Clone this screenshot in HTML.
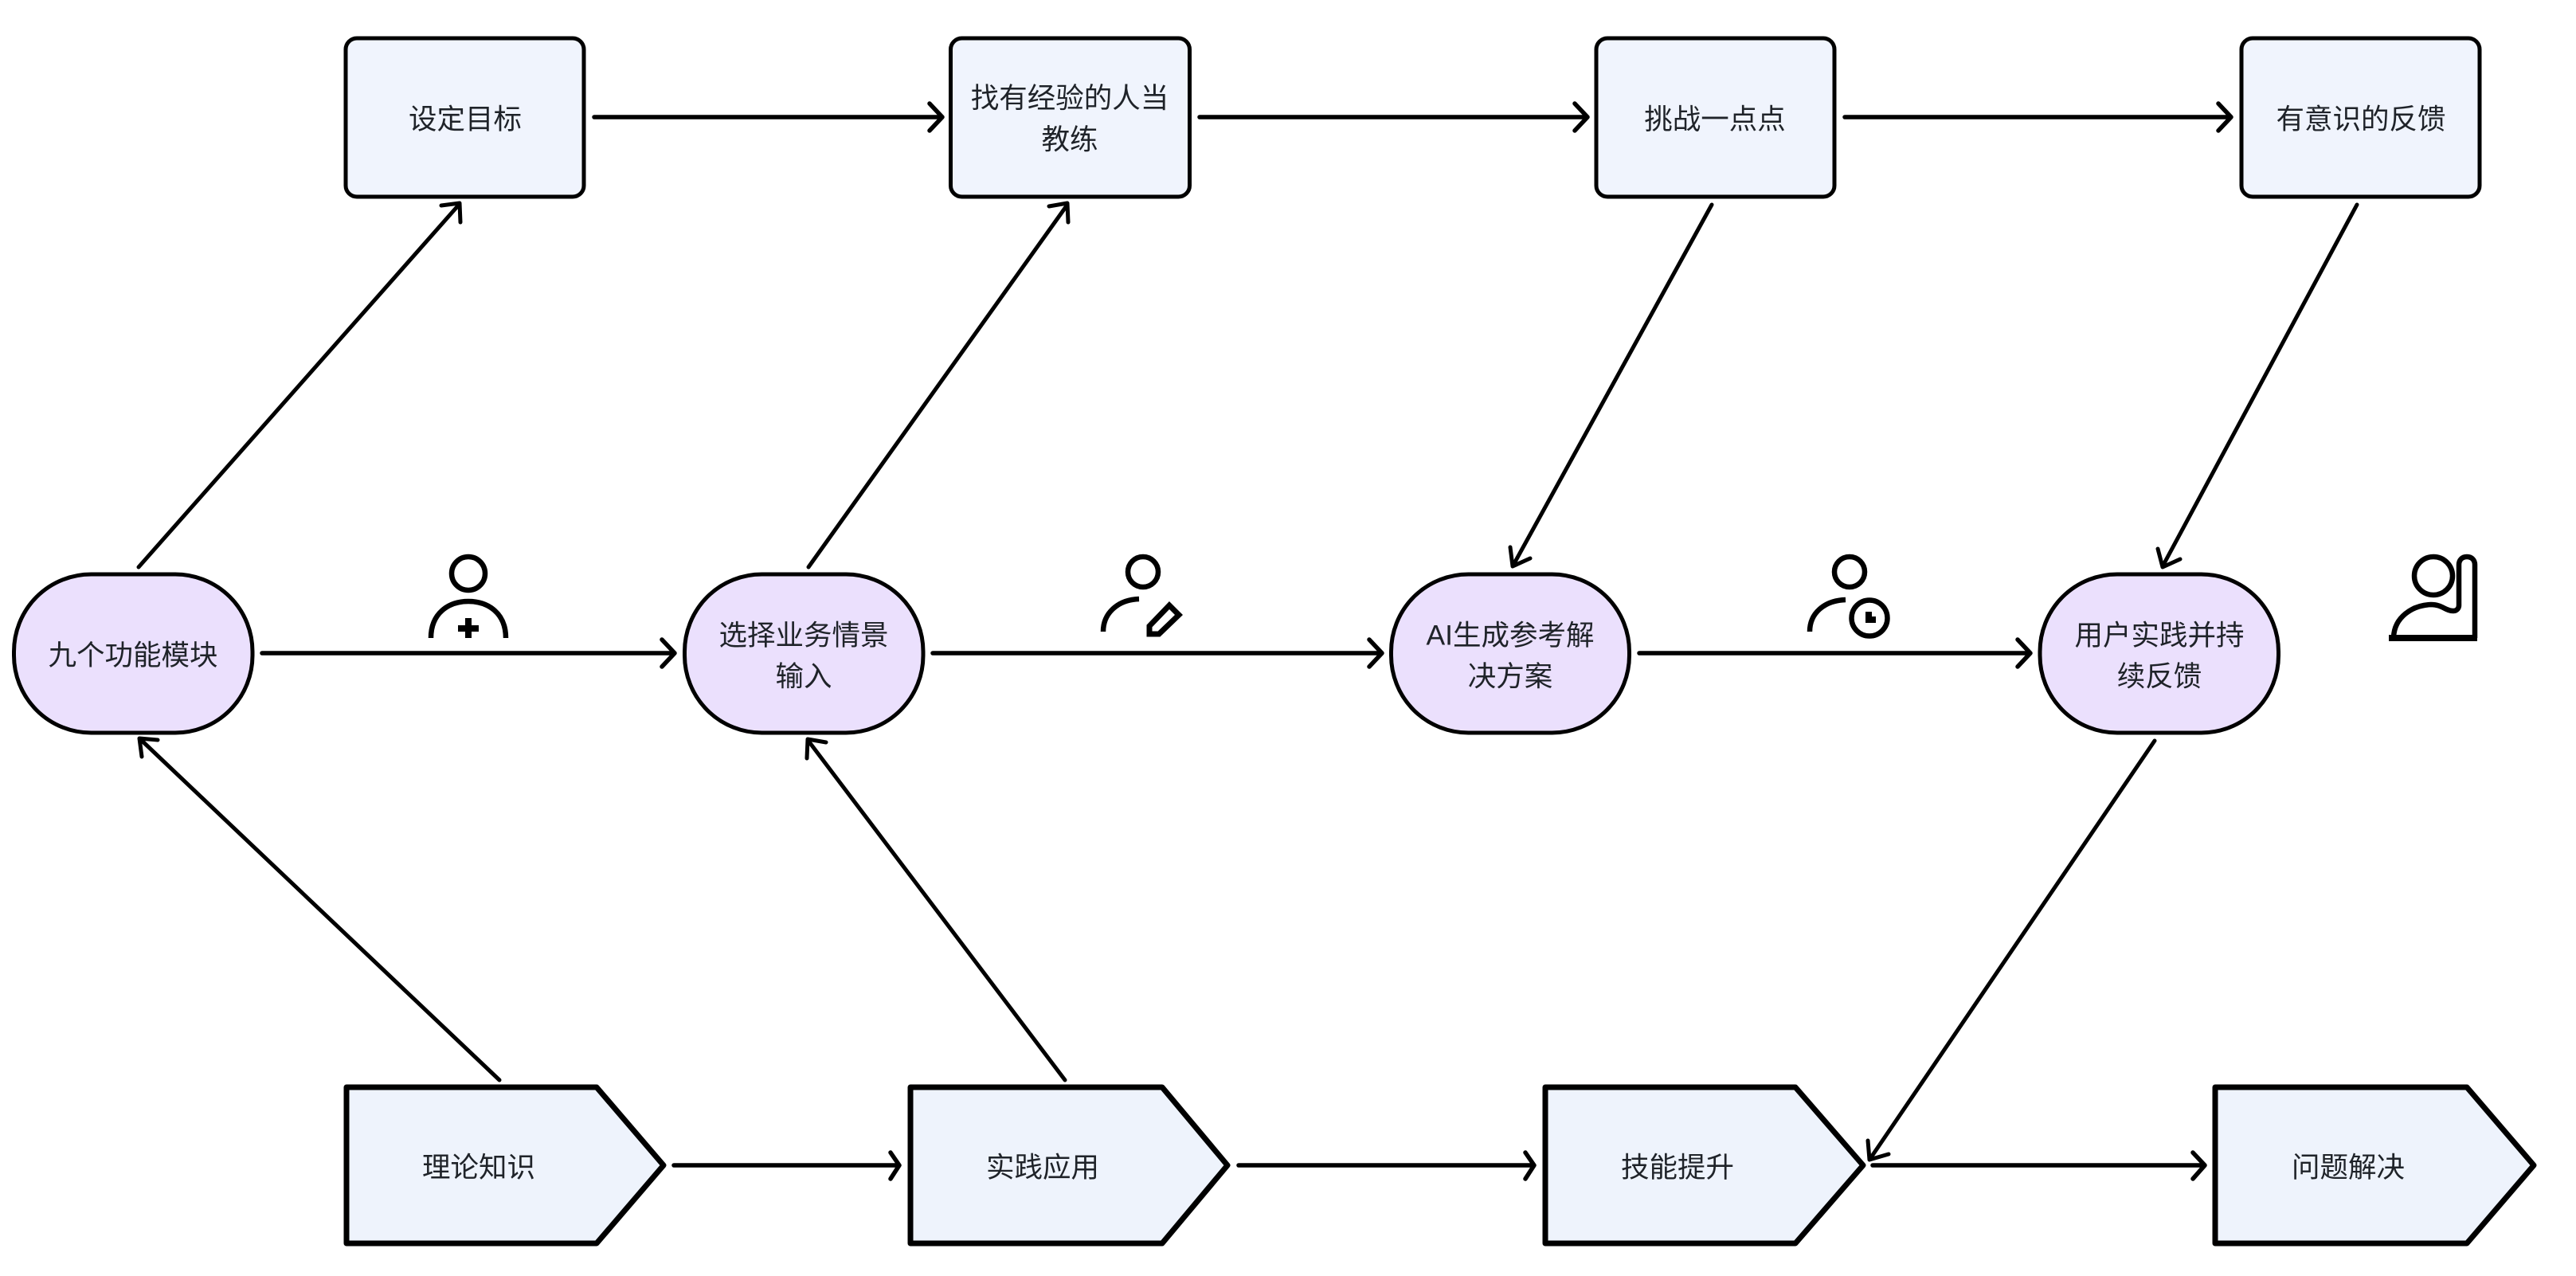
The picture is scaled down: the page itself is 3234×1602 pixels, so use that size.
<!DOCTYPE html>
<html lang="zh">
<head>
<meta charset="utf-8">
<title>diagram</title>
<style>
html,body{margin:0;padding:0;background:#fff;width:3234px;height:1602px;overflow:hidden}
svg{display:block}
text{font-family:"Liberation Sans","Noto Sans CJK SC",sans-serif;font-size:35.5px;fill:#1f2329;text-anchor:middle;dominant-baseline:central}
.r{fill:#f0f4fd;stroke:#000;stroke-width:5}
.p{fill:#ebe0fd;stroke:#000;stroke-width:5}
.h{fill:#eef3fc;stroke:#000;stroke-width:7;stroke-linejoin:round}
.l{fill:none;stroke:#000;stroke-width:5.5;stroke-linecap:round;stroke-linejoin:round}
.d{fill:none;stroke:#000;stroke-width:5;stroke-linecap:round;stroke-linejoin:round}
.i{fill:none;stroke:#000;stroke-width:6.5}
</style>
</head>
<body>
<svg width="3234" height="1602" viewBox="0 0 3234 1602" xmlns="http://www.w3.org/2000/svg">
<rect width="3234" height="1602" fill="#fff"/>

<!-- top rects -->
<rect class="r" x="434" y="48" width="299" height="199" rx="14"/>
<rect class="r" x="1193.500" y="48" width="300" height="199" rx="14"/>
<rect class="r" x="2004" y="48" width="299" height="199" rx="14"/>
<rect class="r" x="2814" y="48" width="299" height="199" rx="14"/>
<text x="584" y="149.500">设定目标</text>
<text x="1343" y="123">找有经验的人当</text>
<text x="1343" y="175">教练</text>
<text x="2153" y="149.500">挑战一点点</text>
<text x="2964" y="149.500">有意识的反馈</text>

<!-- pills -->
<rect class="p" x="17.500" y="721" width="299.500" height="199" rx="97" ry="97"/>
<rect class="p" x="859.500" y="721" width="299.500" height="199" rx="97" ry="97"/>
<rect class="p" x="1746.500" y="721" width="299" height="199" rx="97" ry="97"/>
<rect class="p" x="2561" y="721" width="299.500" height="199" rx="97" ry="97"/>
<text x="167" y="822.500">九个功能模块</text>
<text x="1009" y="797.500">选择业务情景</text>
<text x="1009" y="849">输入</text>
<text x="1896" y="797.500">AI生成参考解</text>
<text x="1896" y="849">决方案</text>
<text x="2711" y="797.500">用户实践并持</text>
<text x="2711" y="849">续反馈</text>

<!-- pentagons -->
<polygon class="h" points="435,1365 749,1365 833,1463 749,1561 435,1561"/>
<polygon class="h" points="1143,1365 1459,1365 1541,1463 1459,1561 1143,1561"/>
<polygon class="h" points="1940,1365 2254,1365 2339,1463 2254,1561 1940,1561"/>
<polygon class="h" points="2781,1365 3097,1365 3181,1463 3097,1561 2781,1561"/>
<text x="601" y="1465.500">理论知识</text>
<text x="1309" y="1465.500">实践应用</text>
<text x="2106" y="1465.500">技能提升</text>
<text x="2948" y="1465.500">问题解决</text>

<!-- horizontal connectors -->
<g class="l">
<path d="M746 147H1183M1167 130L1183 147L1167 164"/>
<path d="M1506 147H1993M1977 130L1993 147L1977 164"/>
<path d="M2316 147H2801M2785 130L2801 147L2785 164"/>
<path d="M329 820H847M831 803L847 820L831 837"/>
<path d="M1171 820H1735M1719 803L1735 820L1719 837"/>
<path d="M2058 820H2549M2533 803L2549 820L2533 837"/>
<path d="M846 1463H1129M1118 1447L1129 1463L1118 1480"/>
<path d="M1555 1463H1926M1915 1447L1926 1463L1915 1480"/>
<path d="M2351 1463H2768M2753 1447L2768 1463L2753 1480"/>
</g>

<!-- diagonal connectors -->
<g class="d">
<path d="M174 712L577 256M554 258L577 255L578 279"/>
<path d="M1015 712L1340 257M1317 259L1340 255L1341 279"/>
<path d="M2149 257L1899 711M1896 687L1899 711L1921 701"/>
<path d="M2959 257L2715 711M2709 689L2715 712L2737 702"/>
<path d="M2705 930L2347 1456M2345 1432L2347 1456L2371 1449"/>
<path d="M627 1356L175 927M198 929L175 927L178 950"/>
<path d="M1337 1356L1014 929M1037 932L1014 928L1013 952"/>
</g>

<!-- icon 1: user plus -->
<g class="i">
<circle cx="588" cy="720" r="21"/>
<path d="M541 801C541 770 563 755 588 755C613 755 635 770 635 801"/>
</g>
<path d="M588 776V801M575 789H601" fill="none" stroke="#000" stroke-width="8"/>

<!-- icon 2: user edit -->
<g class="i">
<circle cx="1435" cy="718" r="19"/>
<path d="M1385 793C1385 770 1403 753 1430 752"/>
<path d="M1468 760L1480 772L1455 796L1443 796L1443 786Z" stroke-linejoin="miter" stroke-width="7"/>
</g>

<!-- icon 3: user clock -->
<g class="i">
<circle cx="2322" cy="718" r="19"/>
<path d="M2272 793C2272 770 2290 754 2317 753"/>
<circle cx="2347" cy="776" r="22.500"/>
</g>
<path d="M2342 768H2350V774H2355V782H2342Z" fill="#000"/>

<!-- icon 4: user with panel -->
<g class="i">
<circle cx="3055" cy="723" r="24"/>
<path d="M3005 800C3006 775 3028 760 3052 759C3066 759 3070 767 3080 767C3085 767 3087 763 3087 760V709C3087 703 3091 699 3097 699C3103 699 3107 703 3107 709V801"/>
</g>
<rect x="2999" y="797" width="111" height="8" fill="#000"/>
</svg>
</body>
</html>
